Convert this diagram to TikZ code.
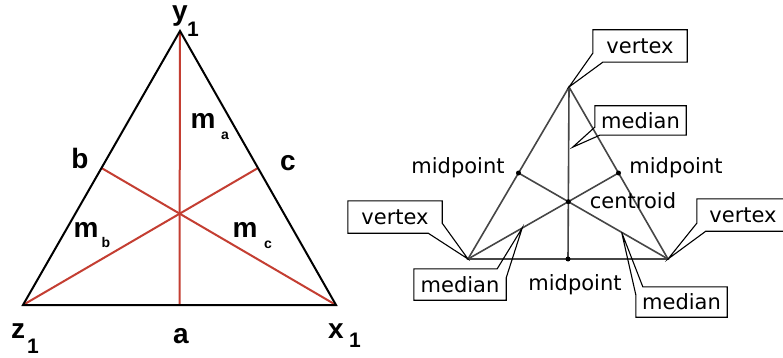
\documentclass[tikz,border=0pt]{standalone}
\usepackage{fontspec}
\setmainfont{DejaVu Sans}
\newfontfamily\lblfont{Liberation Sans}
\usetikzlibrary{calc}
\definecolor{medred}{RGB}{196,62,50}
\definecolor{trigray}{RGB}{70,70,70}
\tikzset{
  bigl/.style={font=\lblfont\bfseries\fontsize{28}{28}\selectfont, inner sep=0pt, anchor=base},
  subone/.style={font=\lblfont\bfseries\fontsize{21}{21}\selectfont, inner sep=0pt, anchor=base},
  subm/.style={font=\lblfont\bfseries\fontsize{14}{14}\selectfont, inner sep=0pt, anchor=base},
  tri/.style={line width=2pt, black, line join=miter},
  med/.style={line width=2pt, medred},
  rtri/.style={line width=1.6pt, trigray},
  dotm/.style={circle, fill=black, inner sep=0pt, minimum size=5pt},
  plain/.style={font=\fontsize{21}{21}\selectfont, inner sep=0pt, anchor=base},
  boxtxt/.style={font=\fontsize{21}{21}\selectfont, inner sep=0pt},
  callout/.style={line width=1.1pt, black, line join=miter}
}
\begin{document}
\begin{tikzpicture}[x=1pt, y=-1pt]
\useasboundingbox (0,0) rectangle (783,358);
\fill[white] (0,0) rectangle (783,358);
% ---------- left triangle ----------
\coordinate (Y) at (180,31);
\coordinate (Z) at (23,305);
\coordinate (X) at (336,305);
\coordinate (Mb) at ($(Y)!0.5!(Z)$);
\coordinate (Mc) at ($(Y)!0.5!(X)$);
\coordinate (Ma) at ($(Z)!0.5!(X)$);
\draw[med] (Y) -- (Ma);
\draw[med] (Z) -- (Mc);
\draw[med] (X) -- (Mb);
\draw[tri] (Y) -- (Z) -- (X) -- cycle;
\node[bigl] (ly) at (180,21) {y};
\node[subone] (ly1) at (193,37) {1};
\node[bigl] (lb) at (80,168) {b};
\node[bigl] (lc) at (288,170) {c};
\node[bigl] (lma) at (203,129) {m};
\node[subm] (lmas) at (225,140) {a};
\node[bigl] (lmb) at (86,237) {m};
\node[subm] (lmbs) at (106,247) {b};
\node[bigl] (lmc) at (245,237) {m};
\node[subm] (lmcs) at (268,248) {c};
\node[bigl] (la) at (181,343) {a};
\node[bigl] (lz) at (18,338) {z};
\node[subone] (lz1) at (33,353) {1};
\node[bigl] (lx) at (336,338) {x};
\node[subone] (lx1) at (355,347) {1};
% ---------- right triangle ----------
\coordinate (RA) at (569,87);
\coordinate (RL) at (468,259);
\coordinate (RR) at (668,259);
\coordinate (RML) at ($(RA)!0.5!(RL)$);
\coordinate (RMR) at ($(RA)!0.5!(RR)$);
\coordinate (RMB) at ($(RL)!0.5!(RR)$);
\coordinate (RG) at ($(RA)!0.6667!(RMB)$);
\draw[rtri] (RA) -- (RMB);
\draw[rtri] (RL) -- (RMR);
\draw[rtri] (RR) -- (RML);
\draw[rtri] (RA) -- (RL) -- (RR) -- cycle;
\node[dotm] (dML) at (RML) {};
\node[dotm] (dMR) at (RMR) {};
\node[dotm] (dMB) at (RMB) {};
\node[dotm] (dG) at (RG) {};
\node[plain] (tml) at (458,173) {midpoint};
\node[plain] (tmr) at (676,173) {midpoint};
\node[plain] (tce) at (633,208) {centroid};
\node[plain] (tmb) at (575,290) {midpoint};
% callout tips
\coordinate (tipMT) at ($(RA)!0.35!(RMB)+(4,0)$);
\coordinate (tipBL) at ($(RL)!0.36!(RMR)$);
\coordinate (tipBR) at ($(RR)!0.31!(RML)$);
% callout boxes
\node[boxtxt, minimum width=94pt, minimum height=32pt] (vT) at (640,46) {vertex};
\node[boxtxt, minimum width=91pt, minimum height=29pt] (mT) at (640.5,120.5) {median};
\node[boxtxt, minimum width=94pt, minimum height=32pt] (vL) at (395,217) {vertex};
\node[boxtxt, minimum width=92pt, minimum height=32pt] (vR) at (743,215) {vertex};
\node[boxtxt, minimum width=92pt, minimum height=31pt] (mBL) at (460,284.5) {median};
\node[boxtxt, minimum width=91pt, minimum height=30pt] (mBR) at (681.5,302) {median};
\draw[callout] ($(vT.south west)+(10,0)$) -- (vT.south east) -- (vT.north east) -- (vT.north west) -- ($(vT.south west)+(0,-9)$) -- (RA) -- cycle;
\draw[callout] ($(mT.south west)+(5,0)$) -- (mT.south east) -- (mT.north east) -- (mT.north west) -- ($(mT.south west)+(0,-8)$) -- (tipMT) -- cycle;
\draw[callout] ($(vL.south east)+(0,-10)$) -- (vL.north east) -- (vL.north west) -- (vL.south west) -- ($(vL.south east)+(-14,0)$) -- (RL) -- cycle;
\draw[callout] ($(vR.south west)+(0,-8)$) -- (vR.north west) -- (vR.north east) -- (vR.south east) -- ($(vR.south west)+(9,0)$) -- (RR) -- cycle;
\draw[callout] ($(mBL.north east)+(0,9)$) -- (mBL.south east) -- (mBL.south west) -- (mBL.north west) -- ($(mBL.north east)+(-9,0)$) -- (tipBL) -- cycle;
\draw[callout] ($(mBR.north west)+(7,0)$) -- (mBR.north east) -- (mBR.south east) -- (mBR.south west) -- ($(mBR.north west)+(0,8)$) -- (tipBR) -- cycle;
\end{tikzpicture}
\end{document}
